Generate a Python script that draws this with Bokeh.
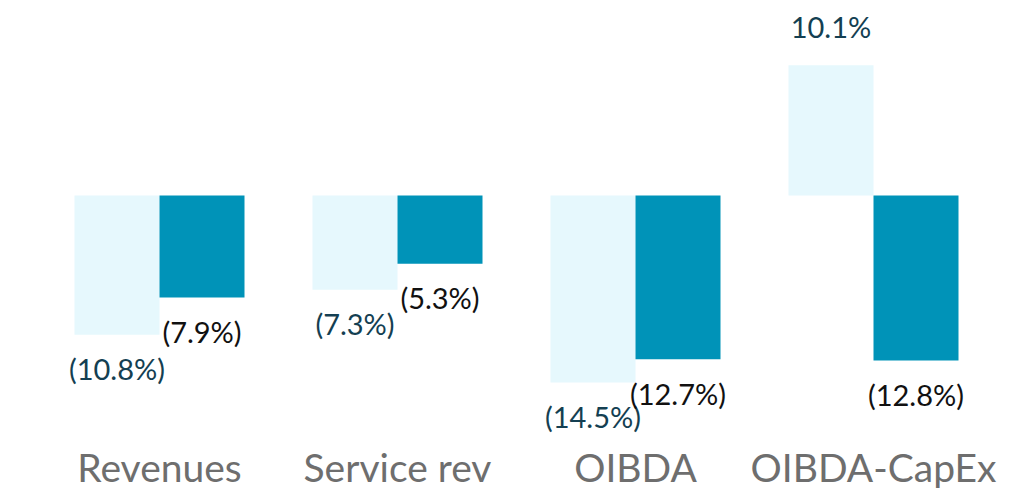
from bokeh.plotting import figure
from bokeh.models import ColumnDataSource, FactorRange, Range1d
from bokeh.transform import dodge
from bokeh.core.properties import value
from bokeh.embed import file_html
from bokeh.resources import INLINE

categories = ["Revenues", "Service rev", "OIBDA", "OIBDA-CapEx"]
series_a = [-10.8, -7.3, -14.5, 10.1]   # light bars
series_b = [-7.9, -5.3, -12.7, -12.8]   # dark bars

def fmt(v):
    return f"({abs(v):.1f}%)" if v < 0 else f"{v:.1f}%"

def offs(vals):
    return [34 if v < 0 else -39 for v in vals]

src = ColumnDataSource(data=dict(
    cat=categories,
    a=series_a, b=series_b,
    a_lab=[fmt(v) for v in series_a], b_lab=[fmt(v) for v in series_b],
    a_off=offs(series_a), b_off=offs(series_b),
))

PX = 12.9
FH = 426
ZERO = 187
BAR_W = 85 / 238
p = figure(
    x_range=FactorRange(factors=categories, range_padding=0),
    y_range=Range1d(-(FH - ZERO) / PX, ZERO / PX),
    frame_width=952, frame_height=FH,
    min_border_left=40, min_border_right=26, min_border_top=8, min_border_bottom=0,
    output_backend="svg", toolbar_location=None,
)

p.vbar(x=dodge("cat", -BAR_W / 2, range=p.x_range), top="a", bottom=0, width=BAR_W,
       source=src, fill_color="#E6F8FD", line_color=None)
p.vbar(x=dodge("cat", BAR_W / 2, range=p.x_range), top="b", bottom=0, width=BAR_W,
       source=src, fill_color="#0093B8", line_color=None)

p.text(x=dodge("cat", -BAR_W / 2, range=p.x_range), y="a", text="a_lab", y_offset="a_off",
       source=src, text_align="center", text_baseline="middle",
       text_font=value("Lato"), text_font_size="29px", text_color="#143F52")
p.text(x=dodge("cat", BAR_W / 2, range=p.x_range), y="b", text="b_lab", y_offset="b_off",
       source=src, text_align="center", text_baseline="middle",
       text_font=value("Lato"), text_font_size="29px", text_color="#111111")

p.yaxis.visible = False
p.xaxis.axis_line_color = None
p.xaxis.major_tick_line_color = None
p.xaxis.minor_tick_line_color = None
p.xaxis.major_tick_out = 0
p.xaxis.major_label_standoff = 9
p.xaxis.major_label_text_font = "Lato"
p.xaxis.major_label_text_font_size = "39px"
p.xaxis.major_label_text_color = "#6E6E6E"
p.xgrid.visible = False
p.ygrid.visible = False
p.outline_line_color = None

open("out.html", "w").write(file_html(p, INLINE))
